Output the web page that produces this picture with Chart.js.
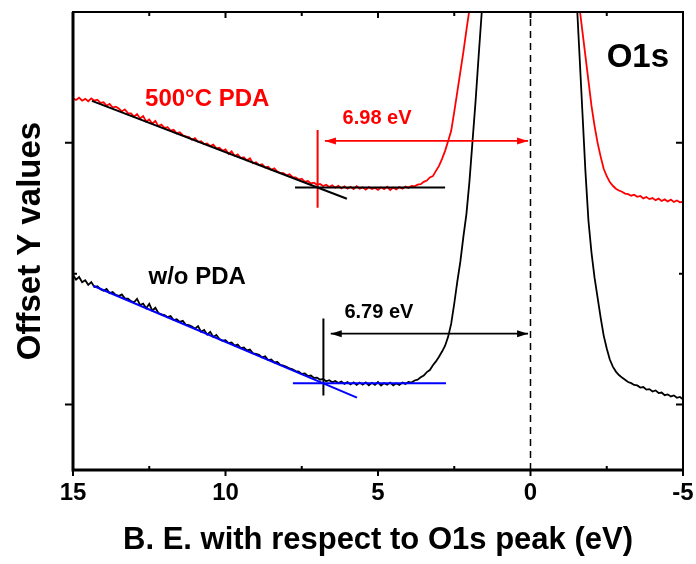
<!DOCTYPE html>
<html>
<head>
<meta charset="utf-8">
<title>O1s valence band onset</title>
<script src="https://cdn.jsdelivr.net/npm/chart.js@4.4.1/dist/chart.umd.min.js"></script>
<style>
  html, body { margin: 0; padding: 0; background: #fff; }
  #wrap { width: 696px; height: 564px; }
</style>
</head>
<body>
<div id="wrap"><canvas id="o1sChart"></canvas></div>
<script>
// B.E. with respect to O1s peak (eV), 0.1 eV step
const energy = [
  15.0,14.9,14.8,14.7,14.6,14.5,14.4,14.3,14.2,14.1,
  14.0,13.9,13.8,13.7,13.6,13.5,13.4,13.3,13.2,13.1,
  13.0,12.9,12.8,12.7,12.6,12.5,12.4,12.3,12.2,12.1,
  12.0,11.9,11.8,11.7,11.6,11.5,11.4,11.3,11.2,11.1,
  11.0,10.9,10.8,10.7,10.6,10.5,10.4,10.3,10.2,10.1,
  10.0,9.9,9.8,9.7,9.6,9.5,9.4,9.3,9.2,9.1,
  9.0,8.9,8.8,8.7,8.6,8.5,8.4,8.3,8.2,8.1,
  8.0,7.9,7.8,7.7,7.6,7.5,7.4,7.3,7.2,7.1,
  7.0,6.9,6.8,6.7,6.6,6.5,6.4,6.3,6.2,6.1,
  6.0,5.9,5.8,5.7,5.6,5.5,5.4,5.3,5.2,5.1,
  5.0,4.9,4.8,4.7,4.6,4.5,4.4,4.3,4.2,4.1,
  4.0,3.9,3.8,3.7,3.6,3.5,3.4,3.3,3.2,3.1,
  3.0,2.9,2.8,2.7,2.6,2.5,2.4,2.3,2.2,2.1,
  2.0,1.9,1.8,1.7,1.6,1.5,1.4,1.3,1.2,1.1,
  1.0,0.9,0.8,0.7,0.6,0.5,0.4,0.3,0.2,0.1,
  0.0,-0.1,-0.2,-0.3,-0.4,-0.5,-0.6,-0.7,-0.8,-0.9,
  -1.0,-1.1,-1.2,-1.3,-1.4,-1.5,-1.6,-1.7,-1.8,-1.9,
  -2.0,-2.1,-2.2,-2.3,-2.4,-2.5,-2.6,-2.7,-2.8,-2.9,
  -3.0,-3.1,-3.2,-3.3,-3.4,-3.5,-3.6,-3.7,-3.8,-3.9,
  -4.0,-4.1,-4.2,-4.3,-4.4,-4.5,-4.6,-4.7,-4.8,-4.9,
  -5.0
];

// 500°C PDA spectrum (offset counts)
const pda500 = [
  2340,2328,2345,2322,2336,2318,2340,2322,2330,2305,
  2310,2284,2298,2270,2276,2262,2240,2256,2228,2226,
  2200,2220,2186,2204,2164,2178,2146,2168,2128,2140,
  2115,2120,2094,2100,2072,2080,2058,2050,2044,2024,
  2036,2008,2012,1990,1996,1975,1986,1958,1962,1940,
  1950,1916,1936,1900,1912,1884,1890,1866,1882,1844,
  1852,1830,1836,1812,1818,1794,1806,1780,1770,1768,
  1752,1760,1738,1736,1720,1726,1702,1708,1690,1696,
  1680,1686,1670,1680,1662,1676,1658,1672,1652,1668,
  1650,1664,1646,1668,1650,1660,1642,1662,1648,1656,
  1640,1660,1646,1664,1640,1658,1644,1662,1650,1666,
  1656,1670,1668,1680,1684,1702,1712,1736,1746,1786,
  1824,1878,1939,2015,2092,2237,2389,2542,2695,2863,
  3023,3200,3400,3650,3950,4300,4700,5100,5500,5900,
  6300,6650,7000,7300,7600,7800,8000,8100,8200,8250,
  8300,8250,8200,8100,8000,7800,7500,7100,6600,6100,
  5600,5000,4400,3900,3500,3160,3046,2855,2664,2473,
  2282,2130,2000,1895,1802,1745,1700,1672,1650,1636,
  1626,1612,1608,1596,1604,1588,1594,1576,1586,1570,
  1578,1562,1574,1556,1568,1552,1566,1548,1560,1546,
  1550
];

// w/o PDA spectrum (offset counts)
const noPda = [
  990,955,975,935,950,915,936,898,905,882,
  870,884,852,860,838,830,842,812,810,790,
  782,808,760,772,736,770,718,740,700,690,
  684,668,676,646,652,632,640,610,608,596,
  580,600,556,570,534,556,516,532,500,488,
  492,470,474,450,458,432,436,414,420,392,
  388,380,360,368,340,344,322,326,304,298,
  288,276,270,256,252,234,238,218,222,204,
  206,190,196,178,186,170,180,164,176,158,
  172,154,170,150,168,152,170,148,166,150,
  172,146,164,152,168,146,162,150,168,158,
  172,168,184,190,208,222,248,264,300,330,
  366,405,450,519,618,771,939,1092,1283,1458,
  1710,2015,2321,2664,2993,3313,3700,4100,4500,4900,
  5300,5650,6000,6300,6600,6800,7000,7100,7200,7250,
  7300,7250,7200,7100,7000,6800,6500,6100,5700,5300,
  4900,4500,4100,3800,3500,3160,2702,2244,1786,1405,
  1160,970,817,664,527,428,344,290,252,226,
  206,190,172,164,150,146,130,134,114,118,
  100,108,88,92,72,78,62,70,52,58,
  40
];

// linear fits and onset markers [energy, counts]
const pda500FitSlope = [[14.38, 2321], [6.02, 1573]];
const pda500FitFlat = [[7.72, 1659], [2.80, 1659]];
const pda500Onset = [[6.98, 2099], [6.98, 1504]];
const pda500Gap = [[6.74, 2015], [0.08, 2015]];
const noPdaFitSlope = [[14.34, 908], [5.69, 53]];
const noPdaFitFlat = [[7.79, 163], [2.77, 163]];
const noPdaOnset = [[6.79, 657], [6.79, 69]];
const noPdaGap = [[6.55, 542], [0.08, 542]];
const peakLine = [[0, -500], [0, 3000]];

const xMajorTicks = [15, 10, 5, 0, -5];
const xMinorTicks = [12.5, 7.5, 2.5, -2.5];
const yMajorTicks = [0, 2000];
const yMinorTicks = [1000, 3000];

const FONT = '"Liberation Sans", Arial, Helvetica, sans-serif';
const RED = '#ff0000';
const BLUE = '#0000ff';

const toXY = pts => pts.map(([x, y]) => ({ x, y }));

const textNotes = [
  { text: '500°C PDA', at: [10.6, 2336], color: RED, size: 24 },
  { text: 'w/o PDA', at: [10.93, 970], color: '#000', size: 24 },
  { text: '6.98 eV', at: [5.03, 2183], color: RED, size: 20 },
  { text: '6.79 eV', at: [4.97, 702], color: '#000', size: 20 },
  { text: 'O1s', at: [-3.52, 2649], color: '#000', size: 33 }
];

const arrows = [
  { pts: pda500Gap, color: RED },
  { pts: noPdaGap, color: '#000' }
];

function arrowHead(ctx, tipX, tipY, dir, color) {
  ctx.fillStyle = color;
  ctx.beginPath();
  ctx.moveTo(tipX, tipY);
  ctx.lineTo(tipX - dir * 11, tipY - 3.5);
  ctx.lineTo(tipX - dir * 11, tipY + 3.5);
  ctx.closePath();
  ctx.fill();
}

// frame, ticks, arrow heads and text labels
const decorations = {
  id: 'decorations',
  afterDatasetsDraw(chart) {
    const { ctx, chartArea: a, scales: { x, y } } = chart;
    ctx.save();

    arrows.forEach(ar => {
      const x1 = x.getPixelForValue(ar.pts[0][0]);
      const x2 = x.getPixelForValue(ar.pts[1][0]);
      const py = y.getPixelForValue(ar.pts[0][1]);
      arrowHead(ctx, x1, py, -1, ar.color);
      arrowHead(ctx, x2, py, 1, ar.color);
    });

    ctx.textAlign = 'center';
    ctx.textBaseline = 'middle';
    textNotes.forEach(n => {
      ctx.font = 'bold ' + n.size + 'px ' + FONT;
      ctx.fillStyle = n.color;
      ctx.fillText(n.text, x.getPixelForValue(n.at[0]), y.getPixelForValue(n.at[1]));
    });

    ctx.strokeStyle = '#000';
    ctx.lineWidth = 2;
    ctx.strokeRect(a.left, a.top, a.right - a.left, a.bottom - a.top);
    ctx.lineWidth = 3;
    ctx.beginPath();
    ctx.moveTo(a.left, a.top);
    ctx.lineTo(a.left, a.bottom);
    ctx.lineTo(a.right, a.bottom);
    ctx.stroke();

    ctx.lineWidth = 2;
    ctx.beginPath();
    xMajorTicks.forEach(v => {
      const px = x.getPixelForValue(v);
      ctx.moveTo(px, a.bottom); ctx.lineTo(px, a.bottom + 6);
      ctx.moveTo(px, a.top); ctx.lineTo(px, a.top + 6);
    });
    xMinorTicks.forEach(v => {
      const px = x.getPixelForValue(v);
      ctx.moveTo(px, a.bottom); ctx.lineTo(px, a.bottom - 4);
      ctx.moveTo(px, a.top); ctx.lineTo(px, a.top + 4);
    });
    yMajorTicks.forEach(v => {
      const py = y.getPixelForValue(v);
      ctx.moveTo(a.left - 8, py); ctx.lineTo(a.left, py);
      ctx.moveTo(a.right, py); ctx.lineTo(a.right - 7, py);
    });
    yMinorTicks.forEach(v => {
      const py = y.getPixelForValue(v);
      ctx.moveTo(a.left, py); ctx.lineTo(a.left + 4, py);
      ctx.moveTo(a.right, py); ctx.lineTo(a.right - 4, py);
    });
    ctx.stroke();
    ctx.restore();
  }
};

const segment = (pts, color, width, extra) => Object.assign({
  data: toXY(pts),
  borderColor: color,
  borderWidth: width,
  pointRadius: 0,
  fill: false,
  order: 1
}, extra || {});

const ctx = document.getElementById('o1sChart').getContext('2d');
const o1sChart = new Chart(ctx, {
  type: 'line',
  data: {
    datasets: [
      segment(pda500FitSlope, '#000', 2),
      segment(pda500FitFlat, '#000', 2),
      segment(pda500Onset, RED, 2),
      segment(pda500Gap, RED, 1.6),
      segment(noPdaFitSlope, BLUE, 2),
      segment(noPdaFitFlat, BLUE, 2),
      segment(noPdaOnset, '#000', 2),
      segment(noPdaGap, '#000', 1.6),
      segment(peakLine, '#000', 1.5, { borderDash: [7, 5], order: 5 }),
      {
        label: '500°C PDA',
        data: energy.map((e, i) => ({ x: e, y: pda500[i] })),
        borderColor: RED,
        borderWidth: 1.8,
        pointRadius: 0,
        order: 10
      },
      {
        label: 'w/o PDA',
        data: energy.map((e, i) => ({ x: e, y: noPda[i] })),
        borderColor: '#000',
        borderWidth: 1.8,
        pointRadius: 0,
        order: 10
      }
    ]
  },
  options: {
    responsive: true,
    maintainAspectRatio: false,
    animation: false,
    layout: { padding: { top: 12, right: 13, left: 0, bottom: 0 } },
    plugins: { legend: { display: false }, tooltip: { enabled: false } },
    scales: {
      x: {
        type: 'linear',
        reverse: true,
        min: -5,
        max: 15,
        afterBuildTicks: s => { s.ticks = xMajorTicks.map(v => ({ value: v })); },
        afterFit: s => { s.height = 94; s.paddingLeft = 0; s.paddingRight = 0; },
        grid: { display: true, drawOnChartArea: false, drawTicks: false },
        border: { display: false },
        ticks: {
          padding: 9,
          color: '#000',
          maxRotation: 0,
          autoSkip: false,
          font: { family: FONT, size: 24, weight: 'bold' }
        },
        title: {
          display: true,
          text: 'B. E. with respect to O1s peak (eV)',
          color: '#000',
          padding: { top: 0, bottom: 5 },
          font: { family: FONT, size: 31, weight: 'bold' }
        }
      },
      y: {
        min: -500,
        max: 3000,
        afterFit: s => { s.width = 73; },
        grid: { display: false },
        border: { display: false },
        ticks: { display: false },
        title: {
          display: true,
          text: 'Offset Y values',
          color: '#000',
          padding: { top: 11, bottom: 0 },
          font: { family: FONT, size: 33, weight: 'bold' }
        }
      }
    }
  },
  plugins: [decorations]
});
</script>
</body>
</html>
